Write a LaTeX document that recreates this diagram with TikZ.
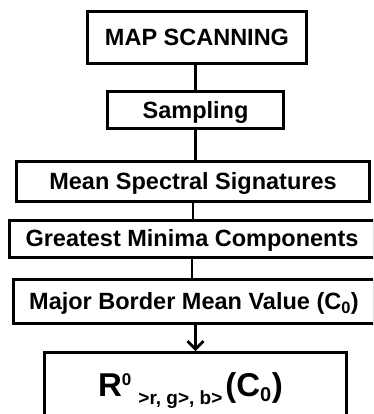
\documentclass[tikz,border=0pt]{standalone}
\usepackage{fontspec}
\setmainfont{Liberation Sans}
\usetikzlibrary{arrows.meta}

\tikzset{stagebox/.style={draw,line width=3pt,inner sep=0pt,text height=16.8pt,text depth=0pt,
  font=\bfseries\fontsize{23.5}{27}\selectfont}}

\begin{document}
\begin{tikzpicture}[x=1pt,y=-1pt]
\clip (0,0) rectangle (373,414);
\fill[white] (0,0) rectangle (373,414);

\node[stagebox,minimum width=219pt,minimum height=52pt] (scan) at (197,37.5) {MAP SCANNING};
\node[stagebox,minimum width=176pt,minimum height=37pt] (sampling) at (195.5,110) {Sampling};
\node[stagebox,minimum width=353pt,minimum height=40pt] (mean) at (193,181.5) {Mean Spectral Signatures};
\node[stagebox,minimum width=365pt,minimum height=37pt] (minima) at (192,238.5) {Greatest Minima Components};
\node[stagebox,minimum width=361pt,minimum height=44pt] (border) at (194,301.5)
  {Major Border Mean Value (C\textsubscript{0})};
\node[stagebox,minimum width=302pt,minimum height=90pt,text height=24pt,text depth=26pt,
  font=\bfseries\fontsize{33}{37}\selectfont] (result) at (195.5,397.5)
  {\hspace{-10pt}R\raisebox{11pt}{\fontsize{17}{19}\selectfont 0}\hspace{7pt}\raisebox{-8pt}{\fontsize{19}{21}\selectfont >r, g>, b>}\hspace{3pt}(C\textsubscript{\fontsize{20}{22}\selectfont 0})};

\draw[line width=2.8pt] (sampling.north) -- (sampling.north |- scan.south);
\draw[line width=2.8pt] (sampling.south) -- (sampling.south |- mean.north);
\draw[line width=2.8pt] (mean.south) -- (mean.south |- minima.north);
\draw[line width=2.8pt] (minima.south) -- (minima.south |- border.north);
\draw[line width=2.8pt,-{Straight Barb[length=8pt,width=16pt]}] (result.north |- border.south) -- (result.north);
\end{tikzpicture}
\end{document}
